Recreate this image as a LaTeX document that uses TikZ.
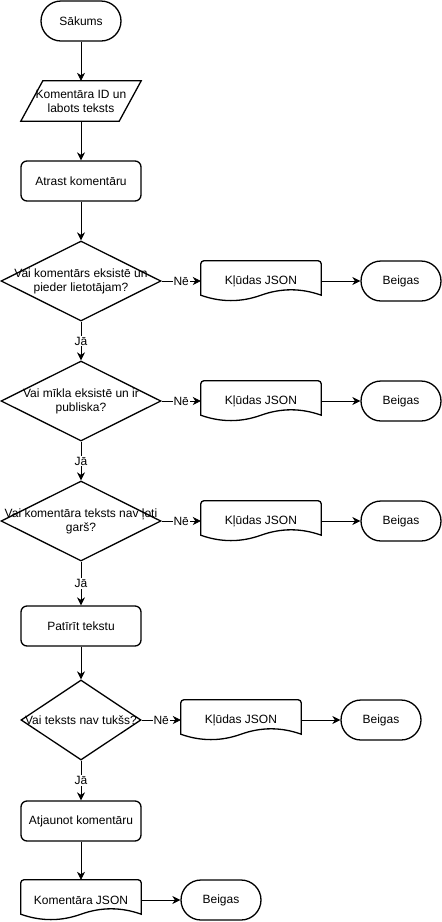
\documentclass[tikz,border=0pt]{standalone}
\usepackage{fontspec}
\setmainfont{Liberation Sans}
\usetikzlibrary{arrows.meta,calc,shapes.geometric}

% outline of a document symbol (flat top, wavy bottom) around a named node
\newcommand\docoutline[1]{%
  \draw[shapeline]
    ($(#1.south west)+(0,-6)$) -- ($(#1.north west)+(0,3)$)
    arc[start angle=180,end angle=270,radius=3]
    -- ($(#1.north east)+(-3,0)$)
    arc[start angle=270,end angle=360,radius=3]
    -- ($(#1.south east)+(0,-6)$)
    .. controls +(-20,-7.2) and +(20,-7.2) .. ($(#1.south)+(0,-6)$)
    .. controls +(-20,7.2) and +(20,7.2) .. ($(#1.south west)+(0,-6)$)
    -- cycle;}

% outline of a parallelogram (input/output) around a named node
\newcommand\paroutline[1]{%
  \draw[shapeline]
    ($(#1.north west)+(22,0)$) -- (#1.north east)
    -- ($(#1.south east)+(-22,0)$) -- (#1.south west) -- cycle;}

\begin{document}
\begin{tikzpicture}[x=1pt,y=-1pt,
  every node/.style={font=\fontsize{12}{14}\selectfont},
  shapeline/.style={line width=1.3pt,black},
  terminal/.style={draw,shapeline,rectangle,rounded corners=20pt,
    minimum width=80pt,minimum height=40pt,inner sep=0pt},
  process/.style={draw,shapeline,rectangle,rounded corners=6pt,
    minimum width=120pt,minimum height=40pt,inner sep=0pt},
  plainbox/.style={rectangle,minimum width=120pt,minimum height=40pt,
    inner sep=0pt,align=center},
  decision/.style={draw,shapeline,diamond,minimum width=#1,
    minimum height=80pt,inner sep=0pt},
  edge/.style={line width=0.8pt,-{Stealth[length=8pt,width=8pt,inset=2.5pt]}},
  lbl/.style={fill=white,inner sep=1pt}]

\useasboundingbox (0,0) rectangle (442,922);

% main column
\node[terminal] (start) at (81,21) {Sākums};
\node[plainbox] (input) at (81,101) {Komentāra ID un\\labots teksts};
\paroutline{input}
\node[process] (find) at (81,181) {Atrast komentāru};

\node[decision=160pt,label={[align=center]center:Vai komentārs eksistē un\\pieder lietotājam?}] (q1) at (81,281) {};
\node[plainbox] (err1) at (261,281) {Kļūdas JSON};
\docoutline{err1}
\node[terminal] (end1) at (401,281) {Beigas};

\node[decision=160pt,label={[align=center]center:Vai mīkla eksistē un ir\\publiska?}] (q2) at (81,401) {};
\node[plainbox] (err2) at (261,401) {Kļūdas JSON};
\docoutline{err2}
\node[terminal] (end2) at (401,401) {Beigas};

\node[decision=160pt,label={[align=center]center:Vai komentāra teksts nav ļoti\\garš?}] (q3) at (81,521) {};
\node[plainbox] (err3) at (261,521) {Kļūdas JSON};
\docoutline{err3}
\node[terminal] (end3) at (401,521) {Beigas};

\node[process] (trim) at (81,626) {Patīrīt tekstu};

\node[decision=120pt,label={center:Vai teksts nav tukšs?}] (q4) at (81,720) {};
\node[plainbox] (err4) at (241,720) {Kļūdas JSON};
\docoutline{err4}
\node[terminal] (end4) at (381,720) {Beigas};

\node[process] (update) at (81,821) {Atjaunot komentāru};
\node[plainbox] (result) at (81,900) {Komentāra JSON};
\docoutline{result}
\node[terminal] (end5) at (221,900) {Beigas};

% connectors
\draw[edge] (start) -- (input);
\draw[edge] (input) -- (find);
\draw[edge] (find) -- (q1);
\draw[edge] (q1) -- node[lbl]{Nē} (err1);
\draw[edge] (err1) -- (end1);
\draw[edge] (q1) -- node[lbl]{Jā} (q2);
\draw[edge] (q2) -- node[lbl]{Nē} (err2);
\draw[edge] (err2) -- (end2);
\draw[edge] (q2) -- node[lbl]{Jā} (q3);
\draw[edge] (q3) -- node[lbl]{Nē} (err3);
\draw[edge] (err3) -- (end3);
\draw[edge] (q3) -- node[lbl]{Jā} (trim);
\draw[edge] (trim) -- (q4);
\draw[edge] (q4) -- node[lbl]{Nē} (err4);
\draw[edge] (err4) -- (end4);
\draw[edge] (q4) -- node[lbl]{Jā} (update);
\draw[edge] (update) -- (result);
\draw[edge] (result) -- (end5);
\end{tikzpicture}
\end{document}
